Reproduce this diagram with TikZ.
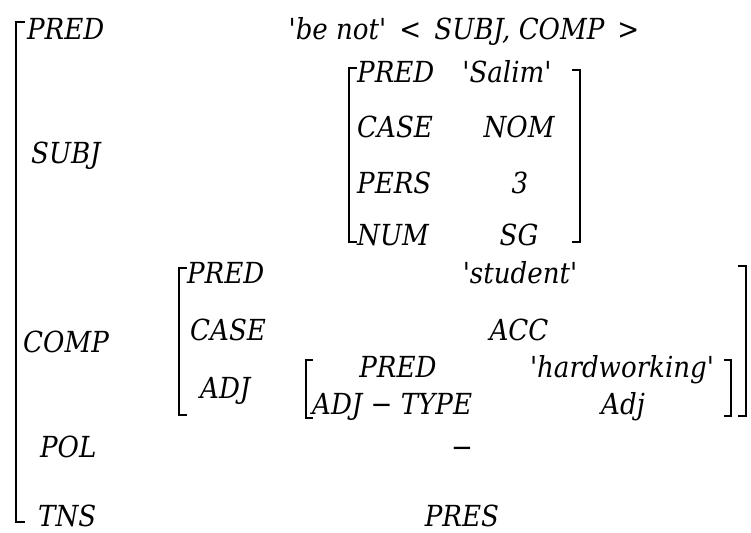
\documentclass[tikz,border=0pt]{standalone}
\usepackage{fontspec}
\newfontfamily\avmfont{DejaVu Serif Condensed}
\usetikzlibrary{positioning}
\tikzset{
  key/.style = {anchor=base west, inner sep=0pt, font=\avmfont\itshape\fontsize{29}{29}\selectfont},
  val/.style = {anchor=base, inner sep=0pt, font=\avmfont\itshape\fontsize{29}{29}\selectfont},
  bar/.style = {line width=2.6pt},
  tick/.style = {line width=1.2pt}
}
\begin{document}
\begin{tikzpicture}[x=1pt,y=-1pt]
            \useasboundingbox (0,0) rectangle (751,532);
            % outer matrix
            \node[key] (pred) at (27,40) {PRED};
            \node[val] (predv) at (464,40) {'be not' \,<\, SUBJ, COMP \,>};
            \node[key] (subj) at (31,163) {SUBJ};
            \node[key] (comp) at (23,352) {COMP};
            \node[key] (pol) at (40,457) {POL};
            \node[val] (polv) at (462,457) {−};
            \node[key] (tns) at (38,526) {TNS};
            \node[val] (tnsv) at (462,526) {PRES};
            % subject
            \node[key] (spred) at (357,83) {PRED};
            \node[val] (spredv) at (507,83) {'Salim'};
            \node[key] (scase) at (357,137) {CASE};
            \node[val] (scasev) at (519,137) {NOM};
            \node[key] (spers) at (357,193) {PERS};
            \node[val] (spersv) at (520,193) {3};
            \node[key] (snum) at (357,245) {NUM};
            \node[val] (snumv) at (519,245) {SG};
            % complement
            \node[key] (cpred) at (187,283) {PRED};
            \node[val] (cpredv) at (520,283) {'student'};
            \node[key] (ccase) at (190,340) {CASE};
            \node[val] (ccasev) at (519,340) {ACC};
            \node[key] (cadj) at (200,398) {ADJ};
            \node[val] (apred) at (398,377) {PRED};
            \node[val] (apredv) at (622,377) {'hardworking'};
            \node[key] (atype) at (312,414) {ADJ − TYPE};
            \node[val] (atypev) at (623,414) {Adj};
            % brackets
            \draw[bar] (16,22) -- (16,522);
            \draw[tick] (15,22) -- (25,22) (15,522) -- (25,522);
            \draw[bar] (349,68) -- (349,242);
            \draw[tick] (348,68) -- (357,68) (348,242) -- (357,242);
            \draw[bar] (580,70) -- (580,242);
            \draw[tick] (581,70) -- (572,70) (581,242) -- (572,242);
            \draw[bar] (179,268) -- (179,415);
            \draw[tick] (178,268) -- (187,268) (178,415) -- (187,415);
            \draw[bar] (746,266) -- (746,416);
            \draw[tick] (747,266) -- (738,266) (747,416) -- (738,416);
            \draw[bar] (306,360) -- (306,418);
            \draw[tick] (305,360) -- (313,360) (305,418) -- (313,418);
            \draw[bar] (731,360) -- (731,416);
            \draw[tick] (732,360) -- (724,360) (732,416) -- (724,416);
        \end{tikzpicture}
\end{document}
